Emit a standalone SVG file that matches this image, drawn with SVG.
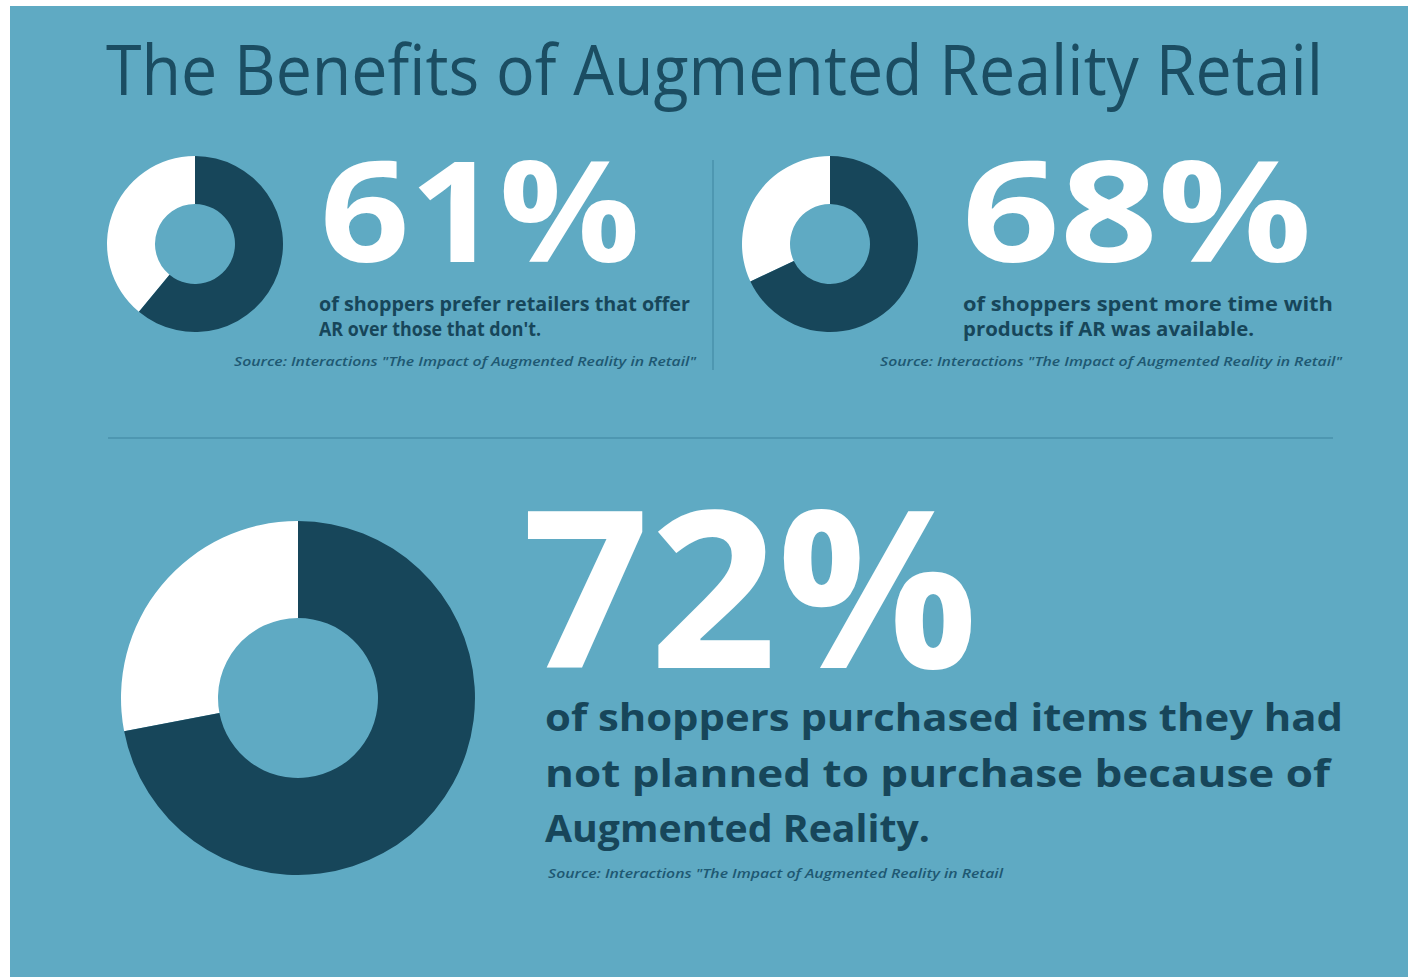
<svg xmlns="http://www.w3.org/2000/svg" width="1408" height="977" viewBox="0 0 1408 977">
<style>
.title{font-family:"Open Sans","Noto Sans","Liberation Sans",sans-serif;font-weight:400;fill:#1B4D62;font-size:70px}
.big{font-family:"Open Sans","Lato","Liberation Sans",sans-serif;font-weight:700;fill:#FFFFFF}
.cap{font-family:"Open Sans","Lato","Liberation Sans",sans-serif;font-weight:700;fill:#17465A}
.src{font-family:"Open Sans","Liberation Sans",sans-serif;font-style:italic;font-weight:600;fill:#1E5872;font-size:12px}
.dark{fill:#17465A}
.white{fill:#FFFFFF}
.rule{stroke:#4E97B1;stroke-width:2;fill:none}
</style>
<rect x="0" y="0" width="1408" height="977" fill="#FFFFFF"/>
<rect x="10" y="6" width="1398" height="971" fill="#5FAAC3"/>
<text class="title" x="106" y="95" textLength="1217" lengthAdjust="spacingAndGlyphs">The Benefits of Augmented Reality Retail</text>
<g id="connectors">
<line class="rule" x1="713" y1="160" x2="713" y2="370"/>
<line class="rule" x1="108" y1="438" x2="1333" y2="438"/>
</g>
<g id="stat61">
<path class="white" d="M195,156 A88,88 0 0 0 138.91,311.80 L169.50,274.82 A40,40 0 0 1 195,204 Z"/>
<path class="dark" d="M195,156 A88,88 0 1 1 138.91,311.80 L169.50,274.82 A40,40 0 1 0 195,204 Z"/>
<text class="big" x="320" y="262" font-size="140" textLength="320" lengthAdjust="spacingAndGlyphs">61%</text>
<text class="cap" x="319" y="311" font-size="19" textLength="371" lengthAdjust="spacingAndGlyphs">of shoppers prefer retailers that offer</text>
<text class="cap" x="319" y="336" font-size="19" textLength="222" lengthAdjust="spacingAndGlyphs">AR over those that don't.</text>
<text class="src" x="234" y="366" textLength="462" lengthAdjust="spacingAndGlyphs">Source: Interactions "The Impact of Augmented Reality in Retail"</text>
</g>
<g id="stat68">
<path class="white" d="M830,156 A88,88 0 0 0 750.38,281.47 L793.81,261.03 A40,40 0 0 1 830,204 Z"/>
<path class="dark" d="M830,156 A88,88 0 1 1 750.38,281.47 L793.81,261.03 A40,40 0 1 0 830,204 Z"/>
<text class="big" x="962" y="262" font-size="140" textLength="350" lengthAdjust="spacingAndGlyphs">68%</text>
<text class="cap" x="963" y="311" font-size="19" textLength="370" lengthAdjust="spacingAndGlyphs">of shoppers spent more time with</text>
<text class="cap" x="963" y="336" font-size="19" textLength="291" lengthAdjust="spacingAndGlyphs">products if AR was available.</text>
<text class="src" x="880" y="366" textLength="462" lengthAdjust="spacingAndGlyphs">Source: Interactions "The Impact of Augmented Reality in Retail"</text>
</g>
<g id="stat72">
<path class="white" d="M298,521 A177,177 0 0 0 124.13,731.17 L219.42,712.99 A80,80 0 0 1 298,618 Z"/>
<path class="dark" d="M298,521 A177,177 0 1 1 124.13,731.17 L219.42,712.99 A80,80 0 1 0 298,618 Z"/>
<text class="big" x="522" y="668" font-size="220" textLength="456" lengthAdjust="spacingAndGlyphs">72%</text>
<text class="cap" x="545" y="731" font-size="38" textLength="798" lengthAdjust="spacingAndGlyphs">of shoppers purchased items they had</text>
<text class="cap" x="545" y="787" font-size="38" textLength="785" lengthAdjust="spacingAndGlyphs">not planned to purchase because of</text>
<text class="cap" x="545" y="842" font-size="38" textLength="385" lengthAdjust="spacingAndGlyphs">Augmented Reality.</text>
<text class="src" x="548" y="878" textLength="455" lengthAdjust="spacingAndGlyphs">Source: Interactions "The Impact of Augmented Reality in Retail</text>
</g>
</svg>
